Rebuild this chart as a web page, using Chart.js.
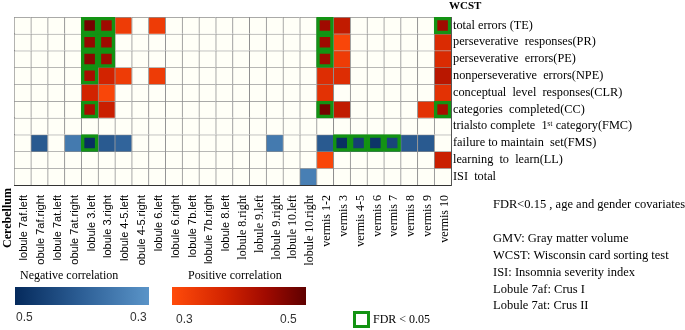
<!DOCTYPE html>
<html>
<head>
<meta charset="utf-8">
<script src="https://cdn.jsdelivr.net/npm/chart.js@4.4.1/dist/chart.umd.min.js"></script>
<style>
  body { margin: 0; background: #fff; }
  #wrap { position: relative; width: 685px; height: 330px; font-family: "Liberation Serif", "Times New Roman", serif; }
  #wrap canvas { position: absolute; left: 0; top: 0; }
  .t { position: absolute; white-space: pre; color: #000; font-size: 12.5px; line-height: 1; }
  .num { font-family: "Liberation Sans", Arial, sans-serif; font-size: 12px; color: #333; }
  .bar { position: absolute; height: 18px; width: 134px; top: 287px; }
</style>
</head>
<body>
<div id="wrap">
  <canvas id="heat" width="685" height="330"></canvas>
  <div class="t" style="left:449px; top:0px; font-size:11px; font-weight:bold;">WCST</div>
  <div class="t" style="left:-23px; top:212px; font-size:12px; font-weight:bold; transform:rotate(-90deg);">Cerebellum</div>

  <div class="t" style="left:20px; top:269px; font-size:12px;">Negative correlation</div>
  <div class="bar" style="left:15px; background:linear-gradient(to right, rgb(5,42,92), rgb(45,95,150), rgb(90,148,200));"></div>
  <div class="t num" style="left:16px; top:311px;">0.5</div>
  <div class="t num" style="left:130px; top:311px;">0.3</div>

  <div class="t" style="left:188px; top:269px; font-size:12px;">Positive correlation</div>
  <div class="bar" style="left:172px; background:linear-gradient(to right, rgb(255,75,10), rgb(210,35,0) 40%, rgb(160,10,0) 70%, rgb(95,0,0));"></div>
  <div class="t num" style="left:176px; top:313px;">0.3</div>
  <div class="t num" style="left:280px; top:313px;">0.5</div>

  <div style="position:absolute; left:353px; top:311px; width:17px; height:17px; box-sizing:border-box; border:3px solid #139313;"></div>
  <div class="t" style="left:373px; top:313px; font-size:12px;">FDR &lt; 0.05</div>

  <div class="t" style="left:493px; top:198px;">FDR&lt;0.15 , age and gender covariates</div>
  <div class="t" style="left:493px; top:232px;">GMV: Gray matter volume</div>
  <div class="t" style="left:493px; top:249px;">WCST: Wisconsin card sorting test</div>
  <div class="t" style="left:493px; top:266px;">ISI: Insomnia severity index</div>
  <div class="t" style="left:493px; top:283px;">Lobule 7af: Crus I</div>
  <div class="t" style="left:493px; top:299px;">Lobule 7at: Crus II</div>
</div>
<script>
const regions = [
  "lobule 7af.left", "lobule 7af.right", "lobule 7at.left", "lobule 7at.right",
  "lobule 3.left", "lobule 3.right", "lobule 4-5.left", "lobule 4-5.right",
  "lobule 6.left", "lobule 6.right", "lobule 7b.left", "lobule 7b.right",
  "lobule 8.left", "lobule 8.right", "lobule 9.left", "lobule 9.right",
  "lobule 10.left", "lobule 10.right", "vermis 1-2", "vermis 3", "vermis 4-5",
  "vermis 6", "vermis 7", "vermis 8", "vermis 9", "vermis 10"
];
const measures = [
  "total errors (TE)", "perseverative  responses(PR)", "perseverative  errors(PE)",
  "nonperseverative  errors(NPE)", "conceptual  level  responses(CLR)",
  "categories  completed(CC)", "trialsto complete  1\u02e2\u1d57 category(FMC)",
  "failure to maintain  set(FMS)", "learning  to  learn(LL)", "ISI  total"
];

// correlation r per region (null = not significant at FDR<0.15), negative = blue
const _ = null;
const te  = [_,_,_,_,0.48,0.44,0.33,_,0.33,_,_,_,_,_,_,_,_,_,0.44,0.40,_,_,_,_,_,0.44];
const pr  = [_,_,_,_,0.45,0.44,_,_,_,_,_,_,_,_,_,_,_,_,0.44,0.31,_,_,_,_,_,0.365];
const pe  = [_,_,_,_,0.46,0.44,_,_,_,_,_,_,_,_,_,_,_,_,0.44,0.33,_,_,_,_,_,0.365];
const npe = [_,_,_,_,0.43,0.38,0.33,_,0.33,_,_,_,_,_,_,_,_,_,0.36,0.36,_,_,_,_,_,0.41];
const clr = [_,_,_,_,0.38,0.31,_,_,_,_,_,_,_,_,_,_,_,_,0.35,_,_,_,_,_,_,0.35];
const cc  = [_,_,_,_,0.43,0.39,_,_,_,_,_,_,_,_,_,_,_,_,0.48,0.40,_,_,_,_,0.35,0.43];
const fmc = [_,_,_,_,_,_,_,_,_,_,_,_,_,_,_,_,_,_,_,_,_,_,_,_,_,_];
const fms = [_,-0.41,_,-0.35,-0.49,-0.41,-0.39,_,_,_,_,_,_,_,_,-0.35,_,_,-0.41,-0.49,-0.46,-0.48,-0.45,-0.41,-0.41,_];
const ll  = [_,_,_,_,_,_,_,_,_,_,_,_,_,_,_,_,_,_,0.31,_,_,_,_,_,_,0.39];
const isi = [_,_,_,_,_,_,_,_,_,_,_,_,_,_,_,_,_,-0.34,_,_,_,_,_,_,_,_];

// region indices with FDR < 0.05 (green boxes)
const sigTE  = [4, 5, 18, 25];
const sigPR  = [4, 5, 18];
const sigPE  = [4, 5, 18];
const sigNPE = [4];
const sigCC  = [4, 18, 25];
const sigFMS = [4, 19, 20, 21, 22];

const rowValues = [te, pr, pe, npe, clr, cc, fmc, fms, ll, isi];
const rowSig = [sigTE, sigPR, sigPE, sigNPE, [], sigCC, [], sigFMS, [], []];

const posStops = [[0, [255, 75, 10]], [0.4, [210, 35, 0]], [0.7, [160, 10, 0]], [1, [95, 0, 0]]];
const negStops = [[0, [90, 148, 200]], [0.5, [45, 95, 150]], [1, [5, 42, 92]]];

function ramp(stops, t) {
  t = Math.max(0, Math.min(1, t));
  for (let i = 1; i < stops.length; i++) {
    const [t1, c1] = stops[i];
    const [t0, c0] = stops[i - 1];
    if (t <= t1) {
      const f = (t - t0) / (t1 - t0);
      const c = c0.map((v, k) => Math.round(v + (c1[k] - v) * f));
      return `rgb(${c[0]},${c[1]},${c[2]})`;
    }
  }
  const c = stops[stops.length - 1][1];
  return `rgb(${c[0]},${c[1]},${c[2]})`;
}

const colorOf = (v) => {
  if (v === null) return "#fffff7";
  const t = (Math.abs(v) - 0.3) / 0.2;
  return v > 0 ? ramp(posStops, t) : ramp(negStops, t);
};

const datasets = [];
rowValues.forEach((vals, r) => {
  datasets.push({
    data: regions.map(() => [r, r + 1]),
    backgroundColor: vals.map(colorOf),
    borderColor: "#8e8e8e",
    borderWidth: { top: 1, left: 1, right: 0, bottom: 0 },
    borderSkipped: false,
    barPercentage: 1,
    categoryPercentage: 1,
    grouped: false,
    order: 2,
  });
});
rowSig.forEach((sig, r) => {
  if (!sig.length) return;
  datasets.push({
    data: regions.map((c, i) => (sig.includes(i) ? [r, r + 1] : null)),
    backgroundColor: "rgba(0,0,0,0)",
    borderColor: "#139313",
    borderWidth: 2.8,
    borderSkipped: false,
    barPercentage: 1,
    categoryPercentage: 1,
    grouped: false,
    order: 0,
  });
});

const ctx = document.getElementById("heat");
new Chart(ctx, {
  type: "bar",
  data: { labels: regions, datasets: datasets },
  options: {
    responsive: false,
    animation: false,
    layout: { padding: { left: 14, top: 17, right: 0, bottom: 65 } },
    plugins: { legend: { display: false }, tooltip: { enabled: false } },
    scales: {
      x: {
        type: "category",
        offset: true,
        grid: { display: false },
        border: { display: true, color: "#333" },
        ticks: {
          autoSkip: false,
          minRotation: 90,
          maxRotation: 90,
          padding: 2,
          labelOffset: 2,
          color: "#000",
          font: (c) => c.index < 13
            ? { family: "Liberation Sans", size: 11 }
            : { family: "Liberation Serif", size: 12 },
        },
        afterFit: (s) => { s.height = 80; },
      },
      y: {
        type: "linear",
        min: 0,
        max: 10,
        reverse: true,
        grid: { display: false },
        border: { display: true, color: "#333" },
        ticks: { display: false },
        afterFit: (s) => { s.width = 0; },
      },
      y2: {
        type: "category",
        labels: measures,
        position: "right",
        offset: true,
        grid: { display: false, drawTicks: false },
        border: { display: true, color: "#555" },
        ticks: { autoSkip: false, padding: 2, color: "#000", font: { family: "Liberation Serif", size: 12.3 } },
        afterFit: (s) => { s.width = 234; },
      },
    },
  },
});
</script>
</body>
</html>
